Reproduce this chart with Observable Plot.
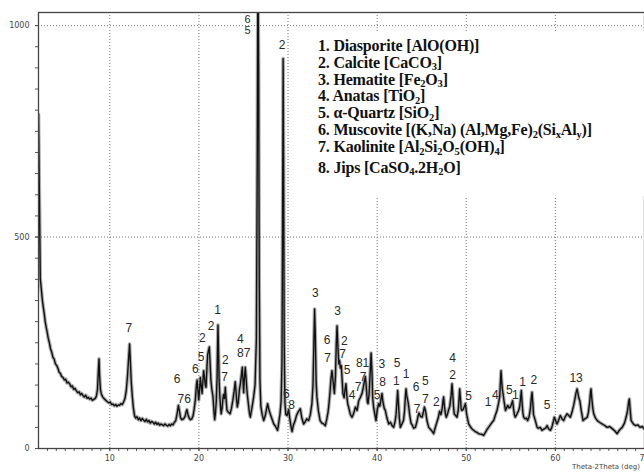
<!DOCTYPE html>
<html>
<head>
<meta charset="utf-8">
<script src="https://cdn.jsdelivr.net/npm/d3@7"></script>
<script src="https://cdn.jsdelivr.net/npm/@observablehq/plot@0.6"></script>
<style>
  html, body { margin: 0; padding: 0; background: #fff; }
  #chart { width: 644px; height: 472px; overflow: hidden; }
</style>
</head>
<body>
<div id="chart"></div>
<script>
// ---- data (2θ in degrees, intensity in counts) ----
const twoTheta = [
  2.00,2.12,2.20,2.30,2.44,2.55,2.65,2.75,2.87,2.97,3.08,3.24,3.35,3.48,3.63,3.75,3.90,4.05,4.19,4.32,
  4.45,4.60,4.75,4.90,5.05,5.20,5.35,5.49,5.65,5.80,5.95,6.10,6.24,6.40,6.55,6.70,6.85,7.00,7.15,7.30,
  7.45,7.60,7.73,7.90,8.05,8.20,8.35,8.50,8.62,8.72,8.79,8.86,8.95,9.05,9.20,9.35,9.50,9.60,9.75,9.90,
  10.05,10.20,10.36,10.50,10.65,10.80,10.95,11.10,11.25,11.40,11.55,11.70,11.85,12.00,12.12,12.22,12.30,12.40,12.53,12.65,
  12.78,12.90,13.05,13.20,13.35,13.50,13.65,13.80,13.95,14.10,14.25,14.40,14.55,14.70,14.85,15.00,15.15,15.30,15.45,15.60,
  15.75,15.90,16.05,16.20,16.35,16.50,16.65,16.80,16.95,17.10,17.25,17.40,17.55,17.70,17.82,17.95,18.10,18.28,18.45,18.58,
  18.66,18.78,18.90,19.05,19.20,19.35,19.48,19.60,19.72,19.80,19.90,19.98,20.08,20.16,20.25,20.35,20.45,20.53,20.62,20.72,
  20.80,20.90,20.98,21.08,21.17,21.26,21.35,21.45,21.58,21.68,21.77,21.86,21.95,22.04,22.10,22.14,22.20,22.27,22.33,22.42,
  22.50,22.60,22.68,22.77,22.87,22.96,23.04,23.15,23.30,23.50,23.65,23.80,23.95,24.08,24.18,24.30,24.42,24.55,24.65,24.75,
  24.87,24.95,25.02,25.10,25.20,25.30,25.38,25.46,25.58,25.68,25.77,25.90,26.02,26.14,26.30,26.45,26.55,26.62,26.70,26.77,
  26.85,26.95,27.10,27.27,27.45,27.60,27.71,27.85,28.00,28.20,28.40,28.60,28.83,28.95,29.10,29.22,29.32,29.40,29.45,29.50,
  29.57,29.65,29.75,29.90,30.07,30.20,30.35,30.45,30.60,30.80,30.95,31.10,31.25,31.38,31.55,31.75,31.90,32.10,32.31,32.50,
  32.68,32.80,32.90,32.98,33.06,33.15,33.24,33.40,33.60,33.80,34.00,34.19,34.35,34.48,34.56,34.70,34.82,34.93,35.05,35.20,
  35.32,35.42,35.50,35.60,35.70,35.78,35.88,35.98,36.08,36.16,36.30,36.40,36.50,36.60,36.70,36.80,37.00,37.18,37.35,37.56,
  37.75,37.93,38.10,38.30,38.45,38.58,38.68,38.80,38.90,38.98,39.10,39.22,39.32,39.42,39.50,39.60,39.75,39.87,40.00,40.17,
  40.30,40.42,40.54,40.65,40.80,40.92,41.10,41.30,41.50,41.65,41.85,42.00,42.12,42.22,42.30,42.38,42.50,42.60,42.78,42.96,
  43.08,43.16,43.24,43.32,43.42,43.50,43.65,43.80,43.95,44.10,44.29,44.45,44.60,44.70,44.85,45.04,45.18,45.30,45.42,45.60,
  45.79,46.00,46.20,46.34,46.50,46.70,46.85,47.00,47.15,47.30,47.40,47.46,47.55,47.66,47.76,47.90,48.00,48.15,48.30,48.40,
  48.48,48.57,48.65,48.80,48.96,49.10,49.20,49.26,49.34,49.42,49.50,49.65,49.80,49.90,50.05,50.27,50.45,50.65,50.83,51.00,
  51.20,51.40,51.60,51.80,51.95,52.15,52.30,52.50,52.70,52.90,53.07,53.25,53.45,53.60,53.75,53.85,53.90,53.97,54.05,54.13,
  54.25,54.40,54.52,54.65,54.80,54.95,55.08,55.20,55.30,55.40,55.50,55.70,55.88,56.00,56.10,56.18,56.26,56.35,56.44,56.60,
  56.75,56.89,57.05,57.20,57.30,57.38,57.46,57.55,57.75,57.95,58.10,58.30,58.50,58.70,58.90,59.07,59.25,59.45,59.60,59.75,
  59.88,60.00,60.18,60.35,60.55,60.75,60.93,61.10,61.30,61.50,61.68,61.85,62.05,62.20,62.32,62.44,62.55,62.65,62.74,62.90,
  63.10,63.30,63.45,63.57,63.70,63.85,63.95,64.00,64.08,64.20,64.30,64.50,64.70,64.95,65.24,65.50,65.80,66.10,66.37,66.65,
  66.93,67.20,67.50,67.75,67.95,68.10,68.22,68.30,68.38,68.50,68.75,69.00,69.25,69.50,69.75,69.94,70.00
];
const intensity = [
  790,560,402,380,350,332,318,300,286,276,262,248,236,228,215,212,200,196,189,180,
  178,170,168,162,164,155,157,153,146,148,140,142,137,132,134,127,130,125,122,126,
  119,121,117,119,114,116,118,124,140,185,212,170,140,129,122,118,115,113,110,108,
  110,104,105,101,104,100,103,102,106,104,110,118,137,175,215,247,210,160,122,95,
  77,72,75,68,72,66,71,67,64,69,63,66,60,64,62,58,62,57,60,55,
  58,56,54,58,55,53,57,54,58,56,62,66,82,102,88,72,68,70,76,88,
  92,80,72,68,70,78,95,115,150,162,135,115,140,168,150,130,160,184,170,150,
  145,190,222,232,240,200,160,140,122,90,68,85,112,170,250,292,230,160,130,100,
  82,95,115,128,118,145,120,90,86,82,95,113,135,158,130,98,110,140,153,170,
  192,160,132,165,192,165,140,122,100,82,74,90,105,122,150,260,700,1150,900,400,
  160,100,80,66,78,95,106,92,82,70,58,52,43,60,82,110,200,600,922,700,
  250,110,80,78,92,70,50,40,55,66,78,85,90,94,72,58,62,70,66,80,
  106,150,250,330,270,160,122,90,66,60,58,54,70,85,98,130,165,184,160,130,
  170,250,290,240,200,208,190,196,160,130,120,140,153,125,105,98,80,74,82,98,
  90,113,120,130,145,160,170,140,110,106,130,180,226,180,120,98,80,66,90,106,
  100,115,130,110,95,90,72,58,62,55,50,62,80,110,137,110,70,50,58,66,
  90,120,141,125,115,106,80,60,55,48,50,62,78,84,76,74,85,98,90,65,
  50,45,40,35,48,62,72,88,80,95,115,122,100,82,74,82,90,100,125,153,
  130,100,82,78,74,90,120,141,120,95,90,92,100,106,80,58,52,46,43,40,
  38,35,34,33,31,38,44,50,56,62,66,78,90,105,122,165,184,160,140,130,
  110,90,96,102,96,98,105,113,95,80,74,82,90,100,120,137,110,85,74,70,
  72,66,75,95,120,133,110,80,66,50,48,50,43,46,48,54,46,43,50,62,
  74,68,58,66,78,70,66,75,82,78,74,85,102,118,132,141,128,118,113,90,
  66,70,72,74,85,110,135,141,120,95,82,72,66,62,58,55,50,52,47,42,
  35,44,50,60,75,90,110,117,95,66,58,54,56,50,52,47,48
];

// peak labels (phase numbers) anchored at 2θ / intensity
const labelText  = ["7","6","76","6","5","2","2","1","2","7","4","87","6","5","2","6","8",
  "3","6","7","3","2","7","5","4","7","7","81","5","3","8","5","1","1",
  "6","7","5","7","2","4","2","5","1","4","5","1","1","2","5","13"];
const labelTheta = [12.15,17.54,18.36,19.6,20.24,20.38,21.36,22.1,22.96,22.89,24.65,25.02,25.47,25.47,29.33,29.8,30.4,
  33.06,34.37,34.44,35.57,36.32,36.13,36.62,37.18,37.85,38.41,38.37,39.99,40.54,40.62,42.23,42.15,43.24,
  44.36,44.48,45.41,45.41,46.64,48.47,48.47,50.27,52.45,53.27,54.84,55.51,56.33,57.57,59.07,62.32];
const labelCount = [285,164,117,188,217,261,290,328,209,168,258,225,1014,988,953,129,102,
  367,257,214,324,253,222,186,127,144,168,202,125,200,156,201,160,176,
  145,93,160,117,109,214,174,123,109,125,138,125,158,162,103,167];

// legend lines, {..} marks a subscript
const phaseLegend = [
  "1. Diasporite [AlO(OH)]",
  "2. Calcite [CaCO{3}]",
  "3. Hematite [Fe{2}O{3}]",
  "4. Anatas [TiO{2}]",
  "5. α-Quartz [SiO{2}]",
  "6. Muscovite [(K,Na) (Al,Mg,Fe){2}(Si{x}Al{y})]",
  "7. Kaolinite [Al{2}Si{2}O{5}(OH){4}]",
  "8. Jips [CaSO{4}.2H{2}O]"
];

const xMajorTicks = [10, 20, 30, 40, 50, 60, 70];
const xMinorTicks = d3.range(3, 71, 1);
const yMajorTicks = [0, 500, 1000];
const yMinorTicks = d3.range(0, 1001, 50);
const yGridTicks = [500, 1000];

const pattern = twoTheta.map((t, i) => ({t, c: intensity[i]}));
const peaks = labelText.map((s, i) => ({s, t: labelTheta[i], c: labelCount[i], top: labelCount[i] > 980}));

const svg = Plot.plot({
  width: 644,
  height: 472,
  marginLeft: 38,
  marginRight: 0,
  marginTop: 12,
  marginBottom: 24,
  style: {fontFamily: "DejaVu Sans, sans-serif", fontSize: "8px", color: "#444", background: "#fff"},
  x: {domain: [2, 70]},
  y: {domain: [0, 1031]},
  marks: [
    Plot.gridX({ticks: xMajorTicks, stroke: "#666", strokeOpacity: 0.9, strokeWidth: 1, strokeDasharray: "1,2"}),
    Plot.gridY({ticks: yGridTicks, stroke: "#666", strokeOpacity: 0.9, strokeWidth: 1, strokeDasharray: "1,2"}),
    Plot.axisX({ticks: xMinorTicks, tickSize: 3, tickFormat: () => "", label: null, stroke: "#555"}),
    Plot.axisX({ticks: xMajorTicks, tickSize: 3, tickPadding: 4, tickFormat: d => String(d), label: null, fontSize: 8, stroke: "#555", fill: "#444"}),
    Plot.axisY({ticks: yMinorTicks, tickSize: 3, tickFormat: () => "", label: null, stroke: "#555"}),
    Plot.axisY({ticks: yMajorTicks, tickSize: 3, tickPadding: 6, tickFormat: d => String(d), label: null, fontSize: 8, stroke: "#555", fill: "#444"}),
    Plot.line(pattern, {x: "t", y: "c", stroke: "#666", strokeWidth: 3.6, strokeOpacity: 0.55, clip: true, curve: "linear"}),
    Plot.line(pattern, {x: "t", y: "c", stroke: "#111", strokeWidth: 1.4, clip: true, curve: "linear"}),
    Plot.frame({stroke: "#444", strokeWidth: 1.3}),
    Plot.text(peaks.filter(d => !d.top), {x: "t", y: "c", text: "s", fontSize: 12, fontFamily: "Liberation Sans, Arial, sans-serif", fill: "#2a2a2a"}),
    Plot.text(peaks.filter(d => d.top), {x: "t", y: "c", text: "s", fontSize: 11, fontFamily: "Liberation Sans, Arial, sans-serif", fill: "#2a2a2a"})
  ]
});

const root = d3.select(svg);
// white legend panel
root.append("rect").attr("x", 300).attr("y", 31).attr("width", 344).attr("height", 165).attr("fill", "#fff");
const leg = root.append("text")
  .attr("text-anchor", "start")
  .attr("font-family", "Liberation Serif, Times New Roman, serif")
  .attr("font-weight", "bold")
  .attr("font-size", 16)
  .attr("letter-spacing", "-0.2px")
  .attr("fill", "#111");
const baselines = [50.7, 67.6, 84.5, 101.4, 118.3, 135.2, 152.1, 172.8];
phaseLegend.forEach((line, i) => {
  const parts = line.split(/(\{[^}]*\})/).filter(p => p.length);
  let first = true;
  let prevSub = false;
  parts.forEach(p => {
    const sub = p.startsWith("{");
    const ts = leg.append("tspan").text(sub ? p.slice(1, -1) : p);
    if (first) { ts.attr("x", 318).attr("y", baselines[i]); first = false; }
    if (sub) ts.attr("font-size", 10.5).attr("dy", 2.5);
    else if (prevSub) ts.attr("dy", -2.5);
    prevSub = sub;
  });
});
// axis title
root.append("text").attr("x", 572).attr("y", 469).attr("font-size", 7)
  .attr("text-anchor", "start")
  .attr("font-family", "DejaVu Sans, sans-serif").attr("fill", "#444").text("Theta-2Theta (deg)");

document.getElementById("chart").appendChild(svg);
</script>
</body>
</html>
